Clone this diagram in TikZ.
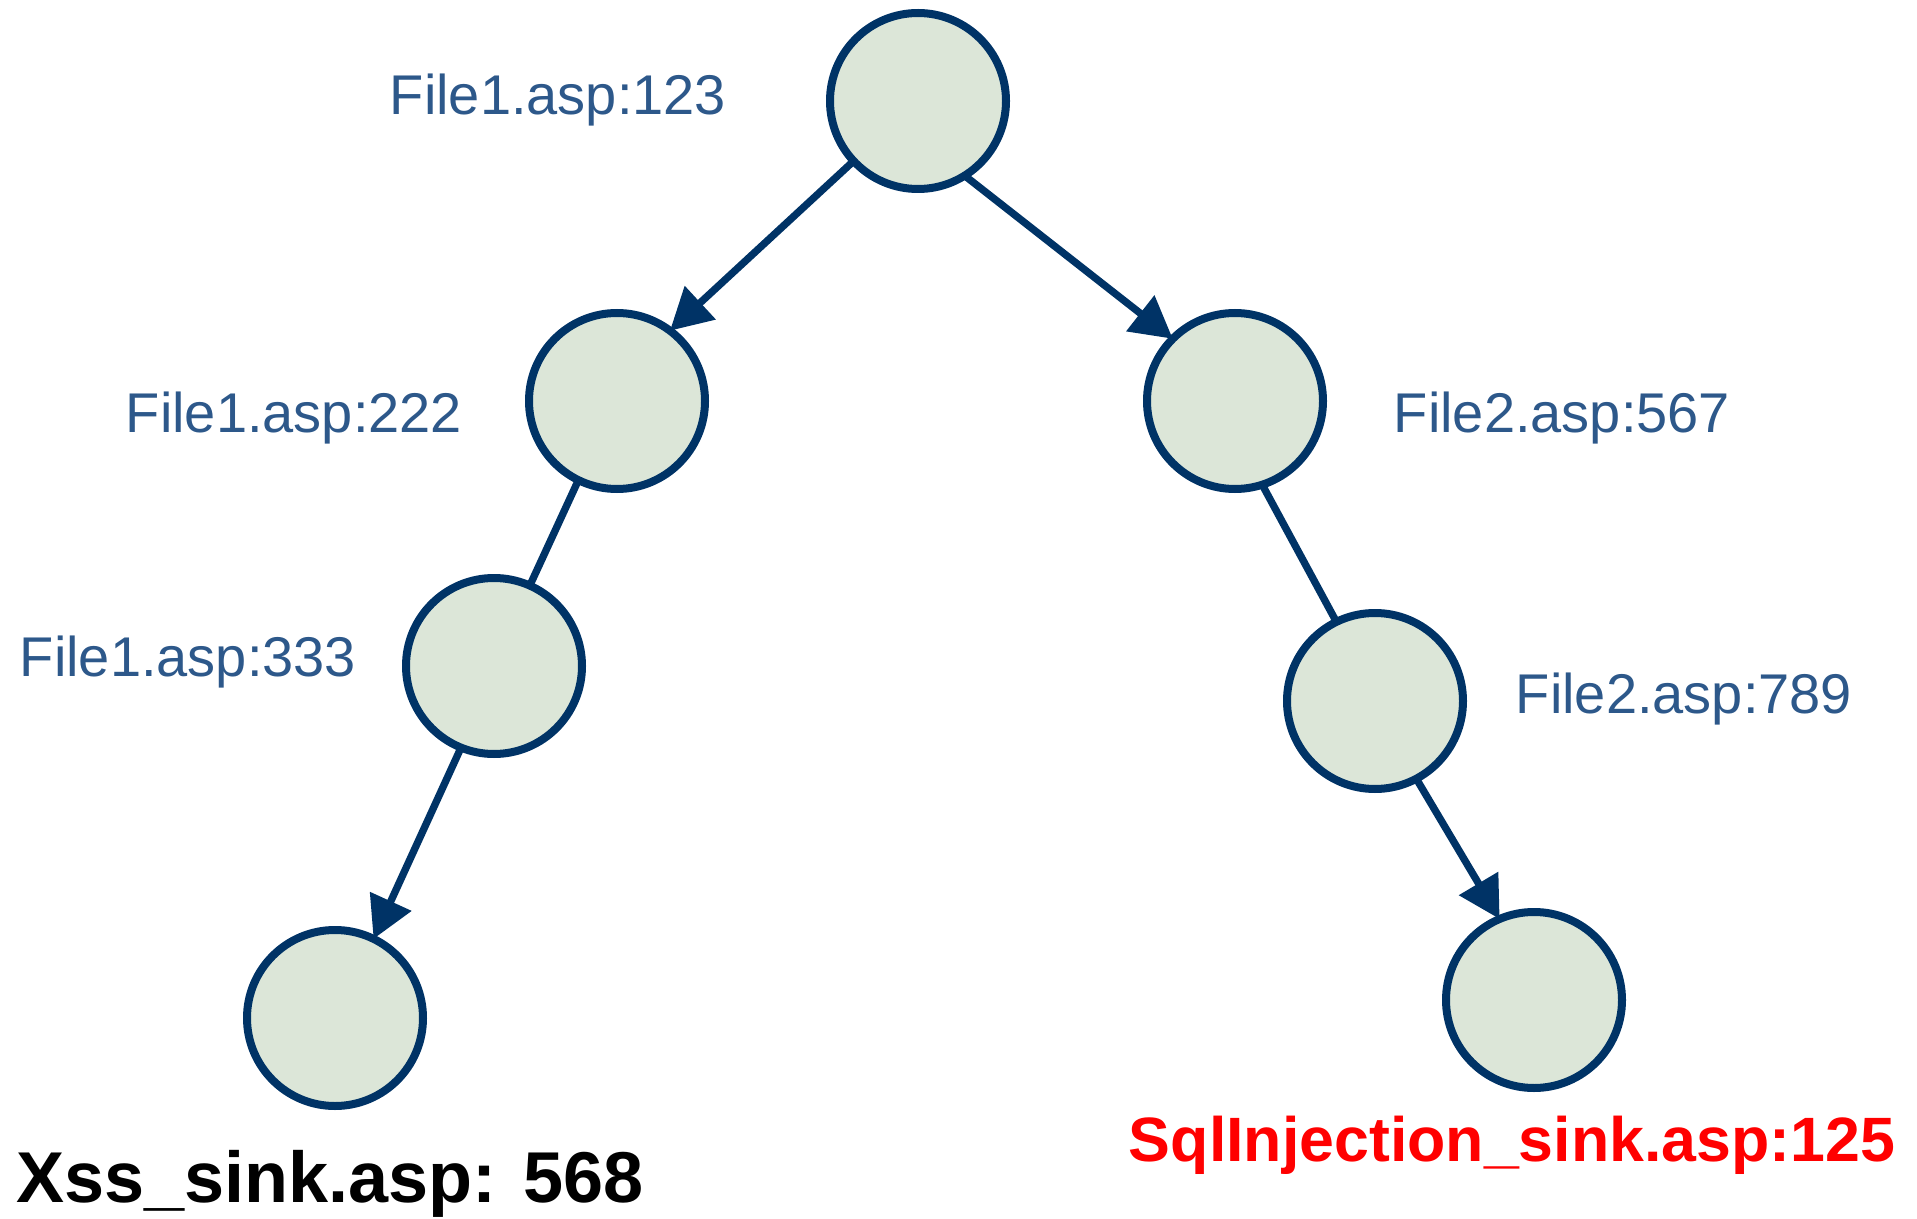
\documentclass[tikz,border=0pt]{standalone}
\usepackage{fontspec}
\setmainfont{Liberation Sans}
\usetikzlibrary{arrows.meta}

\definecolor{nodeline}{RGB}{0,51,102}
\definecolor{nodefill}{RGB}{220,230,216}
\definecolor{labelblue}{RGB}{45,88,138}

\tikzset{every picture/.style={line width=0.75pt}}
\tikzset{
  treenode/.style={circle,draw=nodeline,fill=nodefill,line width=6pt,minimum size=132pt,inner sep=0pt,outer sep=0pt},
  flow/.style={draw=nodeline,line width=5.5pt},
  flowarrow/.style={flow,-{Triangle[length=31pt,width=33pt]}},
  filelabel/.style={text=labelblue,font=\fontsize{42pt}{48pt}\selectfont,inner sep=0pt},
  sinklabel/.style={font=\bfseries\fontsize{54pt}{60pt}\selectfont,inner sep=0pt}
}

\begin{document}
\begin{tikzpicture}[x=0.75pt,y=0.75pt,yscale=-1,xscale=1]
     	\useasboundingbox (0,0) rectangle (1917,1219);

     	% tree nodes
     	\node [treenode] (root) at (918, 101) {};
     	\node [treenode] (n222) at (617, 401) {};
     	\node [treenode] (n567) at (1235, 401) {};
     	\node [treenode] (n333) at (494, 666) {};
     	\node [treenode] (n789) at (1375, 701) {};
     	\node [treenode] (xss) at (335, 1018) {};
     	\node [treenode] (sql) at (1534, 1000) {};

     	% connectors
     	\draw [flowarrow] (root.223) -- (n222.53);
     	\draw [flowarrow] (root.-58) -- (n567.135);
     	\draw [flow] (n222.244) -- (n333.66);
     	\draw [flowarrow] (n333.248) -- (xss.64);
     	\draw [flow] (n567.288) -- (n789.116);
     	\draw [flowarrow] (n789.298) -- (sql.113);

     	% labels
     	\node [filelabel] (l123) at (558, 100) {File1.asp:123};
     	\node [filelabel] (l222) at (294, 418) {File1.asp:222};
     	\node [filelabel] (l567) at (1562, 418) {File2.asp:567};
     	\node [filelabel] (l333) at (188, 662) {File1.asp:333};
     	\node [filelabel] (l789) at (1684, 699) {File2.asp:789};
     	\node [sinklabel] (lxss) at (330, 1184) {Xss\_sink.asp: 568};
     	\node [sinklabel,text=red,font=\bfseries\fontsize{47pt}{52pt}\selectfont] (lsql) at (1512, 1145) {SqlInjection\_sink.asp:125};

\end{tikzpicture}
\end{document}
